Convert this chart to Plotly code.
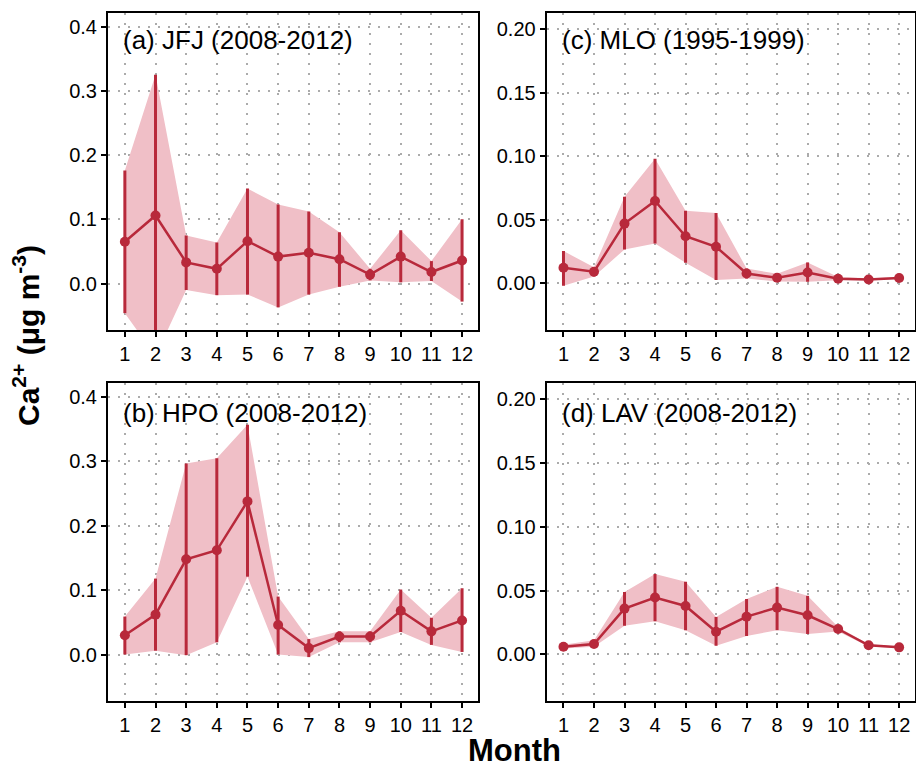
import plotly.graph_objects as go

months = list(range(1, 13))
month_labels = [str(m) for m in months]

# (a) JFJ
jfj_mean = [0.065, 0.106, 0.033, 0.023, 0.066, 0.042, 0.048, 0.038, 0.014, 0.042, 0.018, 0.036]
jfj_low = [-0.046, -0.113, -0.010, -0.018, -0.017, -0.037, -0.017, -0.005, 0.005, 0.002, 0.004, -0.028]
jfj_high = [0.176, 0.325, 0.075, 0.064, 0.148, 0.123, 0.112, 0.080, 0.023, 0.083, 0.035, 0.100]

# (b) HPO
hpo_mean = [0.030, 0.062, 0.148, 0.162, 0.238, 0.046, 0.010, 0.028, 0.028, 0.068, 0.036, 0.053]
hpo_low = [0.000, 0.006, -0.001, 0.019, 0.121, 0.000, -0.004, 0.019, 0.019, 0.035, 0.015, 0.004]
hpo_high = [0.059, 0.118, 0.297, 0.305, 0.357, 0.090, 0.024, 0.036, 0.036, 0.101, 0.057, 0.103]

# (c) MLO
mlo_mean = [0.0123, 0.0092, 0.047, 0.0648, 0.0371, 0.0288, 0.0078, 0.0044, 0.0086, 0.0037, 0.0031, 0.0042]
mlo_low = [-0.0018, 0.0055, 0.0267, 0.0314, 0.0162, 0.0026, 0.0039, 0.0015, 0.0013, 0.0025, 0.0025, 0.0035]
mlo_high = [0.0254, 0.0128, 0.068, 0.098, 0.057, 0.0554, 0.0118, 0.0075, 0.0165, 0.005, 0.004, 0.005]

# (d) LAV
lav_mean = [0.0060, 0.0081, 0.0359, 0.0446, 0.0380, 0.0178, 0.0296, 0.0367, 0.0307, 0.0199, 0.0071, 0.0055]
lav_low = [0.0045, 0.0060, 0.0225, 0.0260, 0.0190, 0.0068, 0.0144, 0.0190, 0.0160, 0.0180, 0.0062, 0.0050]
lav_high = [0.0075, 0.0110, 0.0490, 0.0630, 0.0569, 0.0294, 0.0435, 0.0530, 0.0459, 0.0215, 0.0080, 0.0060]

panel_titles = ["(a) JFJ (2008-2012)", "(c) MLO (1995-1999)",
                "(b) HPO (2008-2012)", "(d) LAV (2008-2012)"]

y_ticks_left = [0.0, 0.1, 0.2, 0.3, 0.4]
y_ticklabels_left = ["0.0", "0.1", "0.2", "0.3", "0.4"]
y_ticks_right = [0.0, 0.05, 0.10, 0.15, 0.20]
y_ticklabels_right = ["0.00", "0.05", "0.10", "0.15", "0.20"]

LINE = "#B8293B"
FILL = "#F0BFC7"
W, H = 916, 768

panels = [
    (jfj_mean, jfj_low, jfj_high, "x", "y", (108, 478), (12.7, 330), (-0.0722, 0.4215), y_ticks_left, y_ticklabels_left, panel_titles[0], 0.913),
    (mlo_mean, mlo_low, mlo_high, "x2", "y2", (546.7, 915), (12.7, 330), (-0.0366, 0.2127), y_ticks_right, y_ticklabels_right, panel_titles[1], 0.913),
    (hpo_mean, hpo_low, hpo_high, "x3", "y3", (108, 478), (383.3, 701), (-0.0722, 0.4215), y_ticks_left, y_ticklabels_left, panel_titles[2], 0.908),
    (lav_mean, lav_low, lav_high, "x4", "y4", (546.7, 915), (383.3, 701), (-0.0366, 0.2127), y_ticks_right, y_ticklabels_right, panel_titles[3], 0.908),
]

fig = go.Figure()
layout = dict(
    width=W, height=H,
    margin=dict(l=0, r=0, t=0, b=0),
    paper_bgcolor="white", plot_bgcolor="white",
    showlegend=False,
    font=dict(family="Liberation Sans, Arial, sans-serif", color="black"),
)
annotations = []

for i, (mean, low, high, xa, ya, xd, yd, yr, yt, ytl, title, ty) in enumerate(panels):
    # ribbon
    fig.add_trace(go.Scatter(x=months, y=high, mode="lines", line=dict(width=0, color=FILL),
                             hoverinfo="skip", xaxis=xa, yaxis=ya))
    fig.add_trace(go.Scatter(x=months, y=low, mode="lines", line=dict(width=0, color=FILL),
                             fill="tonexty", fillcolor=FILL, hoverinfo="skip", xaxis=xa, yaxis=ya))
    # error bars + line + points
    plus = [h - m for h, m in zip(high, mean)]
    minus = [m - l for m, l in zip(mean, low)]
    fig.add_trace(go.Scatter(
        x=months, y=mean, mode="lines+markers",
        line=dict(color=LINE, width=2.5),
        marker=dict(color=LINE, size=10),
        error_y=dict(type="data", symmetric=False, array=plus, arrayminus=minus,
                     color=LINE, thickness=3, width=0),
        xaxis=xa, yaxis=ya))

    xkey = "xaxis" if xa == "x" else "xaxis" + xa[1:]
    ykey = "yaxis" if ya == "y" else "yaxis" + ya[1:]
    layout[xkey] = dict(
        domain=[xd[0] / W, xd[1] / W], anchor=ya, range=[0.45, 12.52],
        tickmode="array", tickvals=months, ticktext=month_labels,
        ticks="outside", ticklen=5, tickwidth=2, tickcolor="black",
        tickfont=dict(size=20, color="black"),
        showline=True, mirror=True, linecolor="black", linewidth=2,
        showgrid=True, gridcolor="#ABABAB", gridwidth=2, griddash="2px,8px",
        zeroline=False,
    )
    layout[ykey] = dict(
        domain=[1 - yd[1] / H, 1 - yd[0] / H], anchor=xa, range=list(yr),
        tickmode="array", tickvals=yt, ticktext=ytl,
        ticks="outside", ticklen=5, tickwidth=2, tickcolor="black",
        tickfont=dict(size=20, color="black"),
        showline=True, mirror=True, linecolor="black", linewidth=2,
        showgrid=True, gridcolor="#ABABAB", gridwidth=2, griddash="2px,8px",
        zeroline=False,
    )
    annotations.append(dict(
        text=title, xref=xa + " domain", yref=ya + " domain",
        x=0.035, y=ty, xanchor="left", yanchor="middle", showarrow=False,
        font=dict(size=26, color="black"),
    ))

annotations.append(dict(
    text="<b>Ca<sup>2+</sup> (μg m<sup>-3</sup>)</b>", xref="paper", yref="paper",
    x=26 / W, y=1 - 336 / H, textangle=-90, showarrow=False,
    xanchor="center", yanchor="middle", font=dict(size=30, color="black"),
))
annotations.append(dict(
    text="<b>Month</b>", xref="paper", yref="paper",
    x=514 / W, y=1 - 750 / H, showarrow=False,
    xanchor="center", yanchor="middle", font=dict(size=31, color="black"),
))
layout["annotations"] = annotations
fig.update_layout(**layout)
fig.write_html("out.html")
